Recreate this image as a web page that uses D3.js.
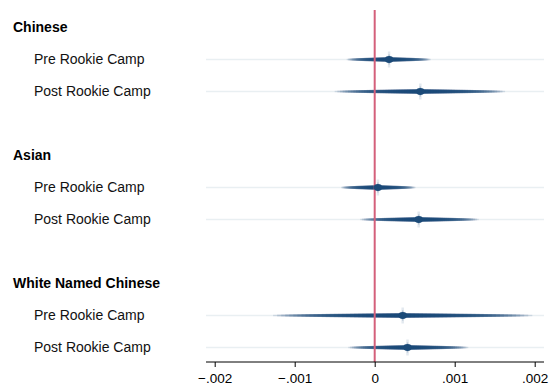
<!DOCTYPE html>
<html>
<head>
<meta charset="utf-8">
<script src="https://cdnjs.cloudflare.com/ajax/libs/d3/7.8.5/d3.min.js"></script>
<style>
  body { margin: 0; background: #fff; }
  text { font-family: "Liberation Sans", Arial, Helvetica, sans-serif; }
</style>
</head>
<body>
<svg width="558" height="387"></svg>
<script>
// group headers, and the row slot each takes
var groups = ["Chinese", "Asian", "White Named Chinese"];
var groupRows = [0, 4, 8];
// coefficient rows
var labels = ["Pre Rookie Camp", "Post Rookie Camp", "Pre Rookie Camp", "Post Rookie Camp", "Pre Rookie Camp", "Post Rookie Camp"];
var coefRows = [1, 2, 5, 6, 9, 10];
var est = [0.00018, 0.00057, 0.00004, 0.00055, 0.00035, 0.00041];
var ciLo = [-0.00035, -0.00050, -0.00042, -0.00018, -0.00127, -0.00033];
var ciHi = [0.00070, 0.00163, 0.00051, 0.00130, 0.00197, 0.00117];
var tickVals = [-0.002, -0.001, 0, 0.001, 0.002];

var svg = d3.select("svg");
var navy = "#1b4a78";

var x = d3.scaleLinear().domain([-0.002, 0.002]).range([214.7, 534.7]);
var y = d3.scaleLinear().domain([0, 10]).range([27.5, 347.5]);
var plotL = 206, plotR = 544, axisY = 362;

// pale background lines
coefRows.forEach(function(r){
  svg.append("line")
    .attr("x1", plotL).attr("x2", plotR)
    .attr("y1", y(r)).attr("y2", y(r))
    .attr("stroke", "#e9eff2").attr("stroke-width", 1.6);
});

// smooth ci: many stacked lines, shorter ones thicker and darker
var N = 32;
coefRows.forEach(function(r, i){
  var g = svg.append("g");
  for (var k = 0; k < N; k++) {
    var t = 1 - k / N;
    var w = 1.6 + 3.0 * Math.pow(1 - t, 0.6);
    g.append("line")
      .attr("x1", x(est[i] - t * (est[i] - ciLo[i])))
      .attr("x2", x(est[i] + t * (ciHi[i] - est[i])))
      .attr("y1", y(r)).attr("y2", y(r))
      .attr("stroke", navy)
      .attr("stroke-opacity", 0.15)
      .attr("stroke-width", w);
  }
});

// zero line
svg.append("line")
  .attr("x1", x(0)).attr("x2", x(0))
  .attr("y1", 10).attr("y2", axisY)
  .attr("stroke", "#d4607b").attr("stroke-width", 2);

// point markers
coefRows.forEach(function(r, i){
  var cx = x(est[i]), cy = y(r);
  svg.append("line")
    .attr("x1", cx).attr("x2", cx)
    .attr("y1", cy - 8).attr("y2", cy + 8)
    .attr("stroke", navy).attr("stroke-opacity", 0.12).attr("stroke-width", 2.5);
  svg.append("line")
    .attr("x1", cx).attr("x2", cx)
    .attr("y1", cy - 5).attr("y2", cy + 5)
    .attr("stroke", navy).attr("stroke-opacity", 0.25).attr("stroke-width", 1.5);
  svg.append("ellipse")
    .attr("cx", cx).attr("cy", cy)
    .attr("rx", 4.2).attr("ry", 3.4)
    .attr("fill", navy);
});

// labels
groups.forEach(function(gname, i){
  svg.append("text")
    .attr("x", 13).attr("y", y(groupRows[i]))
    .attr("dy", "0.35em")
    .attr("font-size", 14).attr("font-weight", "bold")
    .attr("fill", "#000")
    .text(gname);
});
labels.forEach(function(l, i){
  svg.append("text")
    .attr("x", 34).attr("y", y(coefRows[i]))
    .attr("dy", "0.35em")
    .attr("font-size", 14)
    .attr("fill", "#111")
    .text(l);
});

// x axis
var fmt = function(d){ return d === 0 ? "0" : d3.format(".3f")(d).replace("0.", "."); };
var ax = svg.append("g")
  .attr("transform", "translate(0," + axisY + ")")
  .call(d3.axisBottom(x).tickValues(tickVals).tickFormat(fmt).tickSize(5).tickPadding(6));
ax.select(".domain").remove();
ax.append("line")
  .attr("x1", plotL).attr("x2", plotR)
  .attr("stroke", "#000").attr("stroke-width", 1);
ax.selectAll(".tick line").attr("stroke", "#000");
ax.selectAll(".tick text")
  .attr("font-size", 13.5)
  .attr("font-family", "Liberation Sans, Arial, sans-serif")
  .attr("fill", "#000");
</script>
</body>
</html>
